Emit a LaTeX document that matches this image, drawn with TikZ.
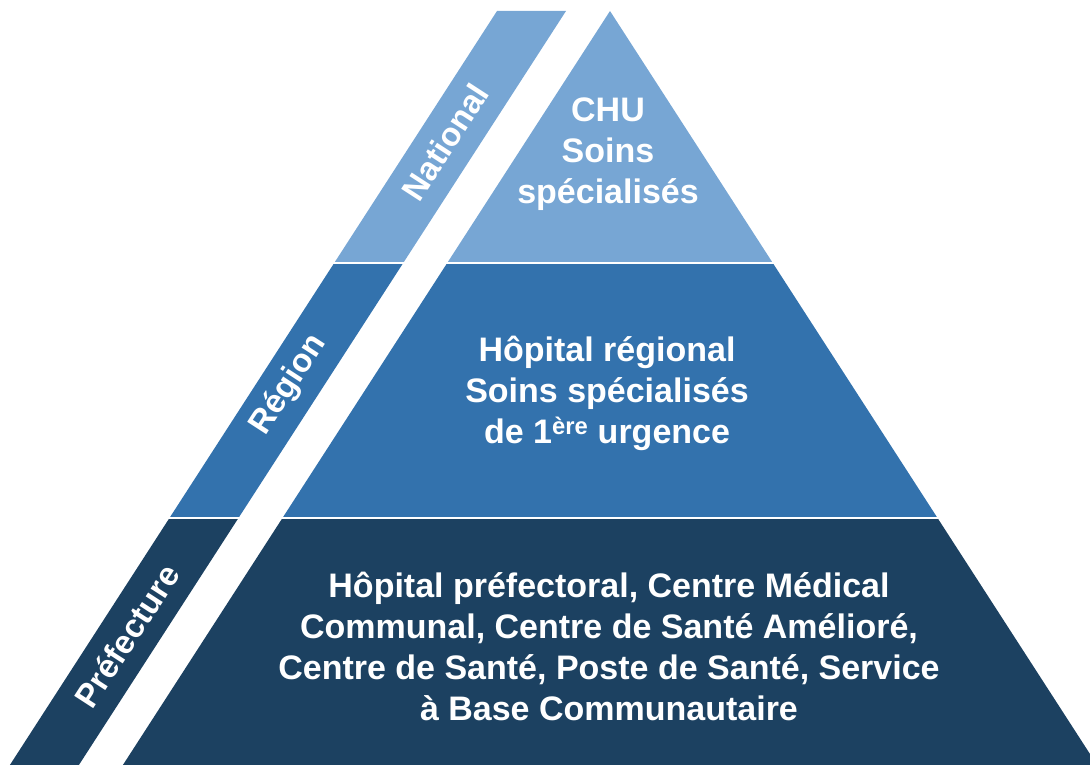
\documentclass[tikz,border=0pt]{standalone}
\usepackage{fontspec}
\setmainfont{Liberation Sans}
\definecolor{nationalblue}{HTML}{77A6D4}
\definecolor{regionblue}{HTML}{3372AD}
\definecolor{prefblue}{HTML}{1C4161}
\tikzset{
    leveltext/.style={text=white, font=\fontsize{34}{41}\selectfont\bfseries, align=center, inner sep=0pt},
    striptext/.style={leveltext, font=\fontsize{33}{41}\selectfont\bfseries, rotate=57}
}
\begin{document}
\begin{tikzpicture}[x=1pt, y=-1pt]
        \useasboundingbox (0,0) rectangle (1090,765);
        % Levels: clip each band, then fill pyramid and side strip
        \foreach \ytop/\ybot/\col in {11/261/nationalblue, 264.5/516/regionblue, 519.5/765/prefblue} {
            \begin{scope}
                \clip (0,\ytop) rectangle (1090,\ybot);
                % Pyramid
                \fill[\col] (610,11) -- (1097.1,765) -- (122.9,765) -- cycle;
                % Side strip
                \fill[\col] (497,11) -- (566,11) -- (78.9,765) -- (9.9,765) -- cycle;
            \end{scope}
        }
        
        % Pyramid texts
        \node[leveltext] (chu) at (608,154) {CHU\\Soins\\spécialisés};
        \node[leveltext] (regional) at (607,393) {Hôpital régional\\Soins spécialisés\\de 1\textsuperscript{ère} urgence};
        \node[leveltext] (prefectoral) at (609,646) {Hôpital préfectoral, Centre Médical\\Communal, Centre de Santé Amélioré,\\Centre de Santé, Poste de Santé, Service\\à Base Communautaire};
        
        % Strip labels
        \node[striptext] (national) at (445,142) {National};
        \node[striptext] (region) at (289,385) {Région};
        \node[striptext] (prefecture) at (127,636) {Préfecture};
\end{tikzpicture}
\end{document}
